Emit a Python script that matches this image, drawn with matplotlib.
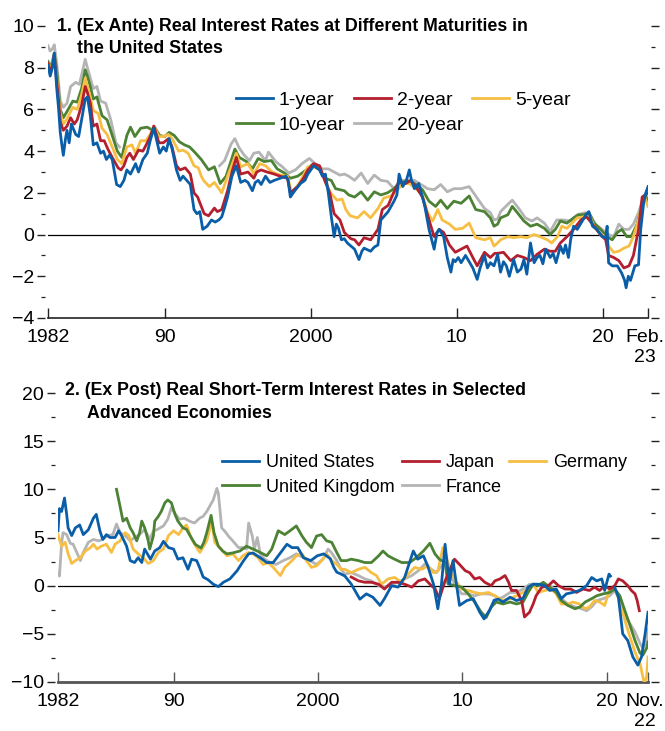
import numpy as np
import matplotlib
matplotlib.use("Agg")
import matplotlib.pyplot as plt
from matplotlib.ticker import MultipleLocator
from matplotlib.transforms import ScaledTranslation

plt.rcParams['font.family'] = ['Liberation Sans Narrow', 'Liberation Sans', 'DejaVu Sans']

# ---- panel 1: US ex ante real rates by maturity ----
yr_1y = [1982.0, 1982.15, 1982.3, 1982.43, 1982.6, 1982.73, 1982.84, 1982.95, 1983.05, 1983.2, 1983.3, 1983.45, 1983.6, 1983.9,
         1984.1, 1984.3, 1984.55, 1984.7, 1984.9, 1985.0, 1985.1, 1985.35, 1985.6, 1985.8, 1986.0, 1986.2, 1986.4, 1986.55,
         1986.7, 1986.95, 1987.2, 1987.4, 1987.65, 1988.0, 1988.2, 1988.5, 1988.8, 1989.0, 1989.25, 1989.45, 1989.65, 1989.9,
         1990.1, 1990.3, 1990.5, 1990.8, 1991.05, 1991.25, 1991.5, 1991.75, 1992.0, 1992.2, 1992.4, 1992.6, 1992.9, 1993.2,
         1993.45, 1993.7, 1993.9, 1994.1, 1994.3, 1994.6, 1994.9, 1995.2, 1995.5, 1995.7, 1996.0, 1996.2, 1996.4, 1996.6,
         1996.9, 1997.2, 1997.5, 1997.9, 1998.3, 1998.45, 1998.6, 1998.9, 1999.3, 1999.6, 1999.8, 2000.2, 2000.6, 2000.8,
         2001.0, 2001.2, 2001.4, 2001.6, 2001.75, 2001.9, 2002.1, 2002.3, 2002.5, 2002.75, 2003.0, 2003.3, 2003.5, 2003.65,
         2004.1, 2004.35, 2004.6, 2004.8, 2005.05, 2005.3, 2005.7, 2005.9, 2006.05, 2006.3, 2006.55, 2006.75, 2006.9, 2007.1,
         2007.4, 2007.8, 2008.1, 2008.3, 2008.45, 2008.65, 2008.8, 2009.1, 2009.35, 2009.6, 2009.75, 2009.9, 2010.1, 2010.3,
         2010.6, 2010.85, 2011.1, 2011.4, 2011.6, 2011.9, 2012.1, 2012.3, 2012.55, 2012.8, 2013.0, 2013.2, 2013.4, 2013.6,
         2013.9, 2014.15, 2014.4, 2014.6, 2014.8, 2015.05, 2015.3, 2015.5, 2015.7, 2015.9, 2016.1, 2016.4, 2016.6, 2016.8,
         2017.1, 2017.3, 2017.45, 2017.65, 2017.8, 2018.0, 2018.25, 2018.6, 2018.8, 2019.05, 2019.3, 2019.6, 2019.95, 2020.2,
         2020.3, 2020.4, 2020.65, 2021.0, 2021.3, 2021.5, 2021.6, 2021.75, 2021.9, 2022.2, 2022.45, 2022.6, 2022.8, 2022.95,
         2023.1]
val_1y = [8.1, 7.6, 8.0, 8.7, 7.0, 6.0, 4.9, 4.3, 3.8, 4.6, 5.0, 4.4, 5.3, 4.8,
          4.7, 5.5, 6.5, 6.6, 5.7, 5.0, 4.3, 4.4, 3.9, 4.0, 3.6, 3.8, 3.6, 3.0,
          2.4, 2.3, 2.6, 3.1, 2.9, 3.4, 3.0, 3.6, 3.9, 4.5, 5.1, 4.5, 3.9, 4.2,
          4.0, 4.6, 4.1, 3.1, 2.6, 2.8, 2.6, 2.4, 1.2, 1.0, 1.1, 0.25, 0.4, 0.7,
          0.6, 0.7, 0.85, 1.3, 1.8, 2.8, 3.3, 2.5, 2.6, 2.5, 2.1, 2.5, 2.6, 2.4,
          2.8, 2.5, 2.6, 2.7, 2.8, 2.6, 1.8, 2.1, 2.45, 2.6, 2.9, 3.3, 3.1, 2.8,
          2.9, 2.0, 0.9, -0.1, 0.5, 0.3, -0.25, -0.2, -0.4, -0.55, -0.7, -1.2, -0.8, -0.65,
          -0.8, -0.6, -0.5, 0.7, 0.9, 1.1, 1.6, 1.9, 2.9, 2.3, 2.6, 3.1, 2.6, 2.2,
          2.45, 1.4, 0.25, -0.3, -0.7, 0.1, 0.25, -0.1, -1.1, -1.8, -1.2, -1.3, -1.1, -1.35,
          -1.0, -1.3, -1.6, -2.15, -1.6, -1.0, -1.6, -1.35, -1.5, -0.95, -1.8, -1.3, -1.5, -2.0,
          -1.2, -1.8, -1.65, -1.2, -1.9, -0.4, -1.35, -1.1, -1.0, -1.4, -0.7, -1.1, -0.9, -1.35,
          -0.55, -0.9, -0.5, -1.1, -0.25, 0.4, 0.25, 0.65, 0.9, 1.1, 0.4, 0.25, -0.1, -0.15,
          0.4, -1.35, -1.5, -1.5, -1.85, -2.2, -2.55, -2.0, -2.2, -1.5, -1.45, 0.25, 1.5, 2.0,
          2.3]

yr_2y = [1982.0, 1982.15, 1982.3, 1982.43, 1982.6, 1982.73, 1982.84, 1983.05, 1983.3, 1983.55, 1983.8, 1984.0, 1984.3,
         1984.55, 1984.7, 1984.9, 1985.1, 1985.35, 1985.6, 1985.85, 1986.1, 1986.4, 1986.8, 1987.0, 1987.2, 1987.4, 1987.6,
         1987.85, 1988.2, 1988.5, 1988.8, 1989.0, 1989.25, 1989.6, 1989.9, 1990.25, 1990.5, 1990.8, 1991.05, 1991.4, 1991.75,
         1992.0, 1992.25, 1992.5, 1992.7, 1993.0, 1993.4, 1993.6, 1993.9, 1994.3, 1994.6, 1994.9, 1995.2, 1995.7, 1996.1,
         1996.3, 1996.6, 1997.0, 1997.5, 1997.9, 1998.4, 1998.6, 1999.1, 1999.5, 1999.8, 2000.2, 2000.6, 2000.95, 2001.3,
         2001.6, 2002.0, 2002.3, 2002.75, 2003.0, 2003.3, 2003.65, 2004.1, 2004.6, 2004.9, 2005.3, 2005.7, 2006.05, 2006.5,
         2006.85, 2007.2, 2007.65, 2008.1, 2008.45, 2008.8, 2009.1, 2009.5, 2009.9, 2010.3, 2010.7, 2011.1, 2011.4, 2011.9,
         2012.3, 2012.6, 2012.8, 2013.2, 2013.7, 2014.15, 2014.6, 2015.05, 2015.5, 2016.0, 2016.4, 2016.75, 2017.1, 2017.55,
         2018.0, 2018.5, 2018.9, 2019.4, 2019.85, 2020.2, 2020.4, 2020.75, 2021.1, 2021.45, 2021.8, 2022.1, 2022.45, 2022.7,
         2022.9, 2023.1]
val_2y = [8.2, 7.8, 8.1, 8.6, 7.3, 6.4, 5.4, 5.0, 5.2, 5.6, 5.3, 5.5, 6.2,
          7.1, 6.8, 6.3, 5.2, 5.3, 4.5, 4.5, 4.1, 3.7, 3.2, 3.1, 3.3, 3.7, 3.9,
          3.6, 4.05, 4.0, 4.4, 4.7, 5.2, 4.4, 4.4, 4.6, 4.2, 3.3, 3.1, 3.2, 2.9,
          2.0, 1.8, 1.35, 1.0, 0.9, 1.27, 1.1, 1.2, 2.1, 3.0, 3.7, 2.9, 3.0, 2.7,
          3.0, 3.1, 3.0, 2.9, 2.8, 2.7, 2.0, 2.3, 2.7, 3.1, 3.4, 3.3, 2.6, 2.0,
          1.0, 0.7, 0.1, -0.2, -0.25, -0.5, -0.15, -0.25, 0.25, 1.2, 1.4, 2.05, 2.55, 2.45,
          2.6, 2.3, 1.8, 0.7, -0.1, 0.25, 0.1, -0.5, -0.85, -0.7, -0.55, -1.1, -1.5, -0.85,
          -1.1, -0.9, -0.9, -0.85, -1.25, -1.0, -1.1, -1.25, -0.95, -0.7, -0.8, -0.8, -0.4, -0.1,
          0.25, 0.7, 0.85, 0.4, 0.0, -0.25, -1.0, -1.1, -1.25, -1.6, -1.5, -1.0, 0.25, 1.8,
          1.9, 2.0]

yr_5y = [1982.0, 1982.15, 1982.3, 1982.43, 1982.6, 1982.84, 1983.05, 1983.3, 1983.7, 1984.0, 1984.3, 1984.55, 1984.7,
         1984.9, 1985.1, 1985.45, 1985.7, 1986.05, 1986.4, 1986.75, 1987.05, 1987.4, 1987.75, 1988.0, 1988.35, 1988.7,
         1989.0, 1989.25, 1989.6, 1989.9, 1990.25, 1990.5, 1990.95, 1991.25, 1991.6, 1992.0, 1992.3, 1992.5, 1992.65,
         1993.05, 1993.4, 1993.9, 1994.3, 1994.9, 1995.2, 1995.7, 1996.1, 1996.5, 1996.9, 1997.35, 1997.9, 1998.4, 1998.7,
         1999.2, 1999.8, 2000.2, 2000.65, 2001.0, 2001.35, 2001.8, 2002.15, 2002.4, 2002.7, 2003.2, 2003.65, 2004.1, 2004.6,
         2005.0, 2005.5, 2005.95, 2006.3, 2006.75, 2007.2, 2007.65, 2008.0, 2008.35, 2008.7, 2009.0, 2009.5, 2009.9, 2010.4,
         2010.85, 2011.3, 2011.9, 2012.3, 2012.55, 2012.8, 2013.0, 2013.5, 2013.9, 2014.4, 2014.8, 2015.3, 2015.7, 2016.2,
         2016.5, 2016.9, 2017.2, 2017.55, 2017.9, 2018.25, 2018.7, 2019.05, 2019.4, 2019.85, 2020.2, 2020.4, 2020.75, 2021.1,
         2021.45, 2021.8, 2022.1, 2022.45, 2022.7, 2022.9, 2023.1]
val_5y = [8.2, 7.9, 8.2, 8.6, 7.5, 5.8, 5.3, 5.55, 6.1, 6.0, 6.7, 7.5, 7.1,
          6.6, 5.95, 5.8, 5.1, 4.8, 4.2, 3.6, 3.4, 4.2, 4.3, 3.9, 4.5, 4.5,
          4.8, 5.2, 4.7, 4.7, 4.8, 4.6, 4.0, 4.05, 3.9, 3.3, 3.2, 2.8, 2.6,
          2.3, 2.5, 2.0, 2.8, 3.9, 3.25, 3.4, 2.9, 3.4, 3.3, 3.0, 2.85, 2.8, 2.0,
          2.45, 3.25, 3.25, 3.1, 2.6, 2.0, 1.65, 1.7, 1.2, 0.9, 0.8, 1.1, 0.8, 1.25,
          1.75, 1.85, 2.15, 2.45, 2.45, 2.2, 1.9, 1.05, 0.65, 1.2, 0.7, 0.5, 0.25, 0.3,
          0.55, -0.15, -0.25, -0.15, -0.55, -0.4, -0.25, -0.1, -0.15, -0.1, -0.15, 0.0, -0.1, -0.25,
          -0.4, -0.1, 0.4, 0.3, 0.55, 0.8, 0.85, 1.0, 0.4, 0.0, -0.1, -0.55, -0.85, -0.8,
          -0.65, -0.55, -0.1, 0.7, 1.5, 1.75, 1.35]

yr_10y = [1982.0, 1982.15, 1982.3, 1982.43, 1982.6, 1982.84, 1983.05, 1983.3, 1983.7, 1984.0, 1984.3, 1984.55, 1984.7,
          1984.9, 1985.1, 1985.35, 1985.7, 1986.05, 1986.4, 1986.75, 1987.05, 1987.4, 1987.65, 1987.95, 1988.35, 1988.8,
          1989.15, 1989.3, 1989.65, 1990.0, 1990.3, 1990.65, 1991.0, 1991.35, 1991.7, 1992.05, 1992.5, 1993.0, 1993.4,
          1993.8, 1994.2, 1994.8, 1995.1, 1995.6, 1996.0, 1996.4, 1996.8, 1997.3, 1997.7, 1998.2, 1998.6, 1999.1, 1999.7,
          2000.1, 2000.6, 2000.95, 2001.4, 2001.7, 2002.0, 2002.3, 2002.6, 2003.0, 2003.45, 2003.9, 2004.35, 2004.8, 2005.25,
          2005.7, 2006.05, 2006.5, 2006.85, 2007.2, 2007.65, 2008.1, 2008.55, 2008.9, 2009.35, 2009.8, 2010.3, 2010.85,
          2011.3, 2011.9, 2012.3, 2012.55, 2012.8, 2013.0, 2013.5, 2013.8, 2014.15, 2014.6, 2015.05, 2015.5, 2016.0, 2016.4,
          2016.75, 2017.1, 2017.55, 2018.0, 2018.35, 2018.7, 2019.05, 2019.4, 2019.85, 2020.3, 2020.65, 2021.0, 2021.3,
          2021.65, 2021.95, 2022.35, 2022.7, 2022.9, 2023.1]
val_10y = [8.3, 8.0, 8.3, 8.7, 7.8, 6.0, 5.6, 5.9, 6.4, 6.35, 7.0, 7.9, 7.6,
           7.1, 6.5, 6.6, 5.7, 5.5, 4.75, 4.0, 3.7, 4.75, 5.15, 4.7, 5.1, 5.15,
           5.0, 5.15, 4.75, 4.7, 4.9, 4.75, 4.45, 4.3, 4.2, 3.95, 3.6, 3.1, 3.25,
           2.45, 2.8, 4.1, 3.7, 3.5, 3.15, 3.65, 3.5, 3.55, 3.15, 2.95, 2.7, 2.8, 3.1,
           3.35, 3.15, 2.7, 2.6, 2.2, 2.15, 2.1, 1.9, 1.8, 2.05, 1.65, 2.05, 1.9, 2.0,
           2.2, 2.45, 2.55, 2.55, 2.4, 2.15, 1.6, 1.35, 1.65, 1.25, 1.6, 1.5, 1.85,
           1.2, 1.1, 0.8, 0.4, 0.5, 0.8, 0.95, 1.35, 1.05, 0.65, 0.4, 0.5, 0.3, 0.0,
           0.25, 0.65, 0.55, 0.8, 0.95, 0.95, 1.05, 0.55, 0.25, -0.1, -0.25, 0.1, 0.25,
           -0.1, -0.1, 0.5, 1.35, 1.85, 1.65]

# 20-year series is not available 1987-1993 (NaN leaves the gap)
yr_20y = [1982.0, 1982.15, 1982.3, 1982.43, 1982.6, 1982.84, 1983.05, 1983.3, 1983.55, 1983.9, 1984.15, 1984.55, 1984.7,
          1984.9, 1985.1, 1985.35, 1985.6, 1985.95, 1986.3, 1986.65, 1986.9, 1990.0,
          1993.75, 1994.1, 1994.55, 1994.8, 1995.1, 1995.45, 1995.8, 1996.1, 1996.45, 1996.9, 1997.1, 1997.6, 1998.05,
          1998.5, 1998.95, 1999.4, 1999.9, 2000.3, 2000.8, 2001.2, 2001.6, 2002.0, 2002.3, 2002.6, 2003.0, 2003.45, 2003.9,
          2004.35, 2004.8, 2005.25, 2005.7, 2006.2, 2006.7, 2007.1, 2007.55, 2008.0, 2008.45, 2008.9, 2009.35, 2009.8,
          2010.3, 2010.85, 2011.3, 2011.9, 2012.3, 2012.55, 2012.8, 2013.0, 2013.5, 2013.8, 2014.25, 2014.7, 2015.15,
          2015.5, 2016.0, 2016.4, 2016.85, 2017.3, 2017.8, 2018.25, 2018.8, 2019.1, 2019.5, 2019.95, 2020.4, 2020.75,
          2021.1, 2021.45, 2021.8, 2022.1, 2022.45, 2022.7, 2022.9, 2023.1]
val_20y = [9.05, 8.8, 8.9, 9.1, 8.2, 6.4, 6.1, 6.3, 7.1, 7.3, 7.2, 8.4, 8.0,
           7.5, 7.0, 7.1, 6.4, 6.3, 5.5, 4.4, 4.2, np.nan,
           3.3, 3.55, 4.35, 4.6, 4.15, 3.8, 3.55, 3.9, 3.95, 3.55, 3.95, 3.5, 3.25,
           2.95, 3.1, 3.4, 3.65, 3.4, 3.15, 3.15, 3.0, 2.85, 2.9, 2.8, 2.6, 2.95, 2.45,
           2.85, 2.6, 2.55, 2.2, 2.6, 2.6, 2.6, 2.4, 2.2, 2.15, 2.4, 2.05, 2.2,
           2.2, 2.3, 1.85, 1.25, 1.05, 0.7, 0.75, 1.1, 1.45, 1.65, 1.25, 0.8, 0.65,
           0.8, 0.55, 0.15, 0.7, 0.7, 0.65, 0.95, 1.05, 1.0, 0.5, 0.25, 0.0, -0.1,
           0.5, 0.25, 0.25, 0.5, 1.05, 1.6, 1.9, 1.85]

# ---- panel 2: ex post real short-term rates ----
yr_us = [1982.0, 1982.1, 1982.25, 1982.45, 1982.6, 1982.7, 1982.95, 1983.2, 1983.5, 1983.75, 1984.1, 1984.45, 1984.65,
         1984.9, 1985.1, 1985.35, 1985.6, 1985.95, 1986.2, 1986.4, 1986.75, 1987.0, 1987.3, 1987.55, 1987.8, 1988.0,
         1988.4, 1988.7, 1989.05, 1989.3, 1989.65, 1990.0, 1990.3, 1990.65, 1991.0, 1991.25, 1991.6, 1991.8, 1992.05,
         1992.4, 1992.75, 1993.1, 1993.45, 1993.9, 1994.4, 1994.85, 1995.2, 1995.5, 1996.0, 1996.45, 1996.9, 1997.4,
         1997.85, 1998.2, 1998.6, 1999.0, 1999.5, 1999.95, 2000.4, 2000.85, 2001.1, 2001.3, 2001.6, 2001.86, 2002.3,
         2002.9, 2003.35, 2003.8, 2004.3, 2004.6, 2005.1, 2005.55, 2006.0, 2006.6, 2006.9, 2007.3, 2007.6, 2008.0, 2008.3,
         2008.55, 2008.8, 2009.1, 2009.35, 2009.6, 2009.8, 2010.3, 2010.75, 2011.2, 2011.5, 2011.9, 2012.2, 2012.5, 2012.8,
         2013.3, 2013.75, 2014.2, 2014.55, 2014.9, 2015.3, 2015.7, 2016.05, 2016.5, 2016.85, 2017.2, 2017.65, 2018.1,
         2018.6, 2018.95, 2019.3, 2019.65, 2019.85, 2020.15, 2020.25, 2020.4, 2020.55, 2020.8, 2021.1, 2021.45, 2021.8,
         2022.15, 2022.4, 2022.65, 2022.85]
val_us = [5.7, 8.0, 7.7, 9.1, 7.4, 6.0, 5.2, 6.0, 6.3, 5.3, 5.8, 7.0, 7.4,
          5.7, 4.8, 5.3, 5.0, 5.0, 5.7, 5.2, 4.1, 2.6, 2.4, 2.9, 2.4, 3.8,
          2.75, 3.6, 3.95, 4.6, 3.95, 3.8, 2.75, 2.9, 1.7, 2.75, 2.6, 1.9, 0.9,
          0.6, 0.15, -0.1, 0.35, 0.7, 1.55, 2.6, 3.3, 3.4, 2.9, 2.4, 2.4, 3.4,
          4.3, 3.95, 3.95, 2.9, 2.6, 3.1, 3.3, 2.8, 1.9, 1.4, 1.2, 1.0, 0.17,
          -1.4, -0.85, -1.2, -2.05, -1.35, 0.0, -0.15, 0.85, 3.6, 2.75, 3.1, 2.05, 0.15, -2.4,
          0.15, 4.3, 0.15, 2.6, 0.0, -2.05, -1.55, -1.35, -2.75, -3.45, -2.5, -1.5, -1.4, -1.7,
          -1.2, -1.55, -1.3, -0.15, 0.15, 0.15, 0.0, -0.5, -0.35, -1.35, -0.85, -0.7, -0.5,
          0.0, 0.85, 0.5, 0.7, -0.5, 1.2, 1.0, np.nan, -0.2, -1.2, -5.0, -5.7, -7.4,
          -8.25, -7.4, -5.0, -2.75]

yr_jp = [2002.3, 2002.8, 2003.25, 2003.7, 2004.2, 2004.6, 2005.1, 2005.55, 2006.0, 2006.5, 2006.95, 2007.4, 2007.85,
         2008.1, 2008.4, 2008.8, 2009.1, 2009.45, 2009.8, 2010.2, 2010.5, 2010.85, 2011.2, 2011.55, 2012.0, 2012.25,
         2012.6, 2012.95, 2013.2, 2013.4, 2013.75, 2014.1, 2014.3, 2014.65, 2014.9, 2015.1, 2015.5, 2015.95, 2016.3,
         2016.65, 2017.1, 2017.5, 2017.9, 2018.35, 2018.8, 2019.15, 2019.5, 2019.85, 2020.2, 2020.55, 2020.8, 2021.1,
         2021.45, 2021.7, 2021.95, 2022.1, 2022.25]
val_jp = [0.9, 0.5, 0.35, 0.35, 0.15, -0.35, 0.35, 0.35, 0.15, -0.15, 0.5, 0.7, 0.0,
          -0.3, -1.35, 0.5, 1.55, 2.75, 2.2, 1.55, 1.35, 0.7, 0.85, 0.35, 0.0, 0.5,
          0.7, 1.05, 0.35, -0.5, -0.5, -1.55, -3.25, -2.75, -1.9, -1.05, -0.15, 0.0, 0.5,
          0.0, -0.35, -0.35, -0.7, -0.35, -0.5, -0.15, -0.5, 0.0, -0.35, 0.0, 0.7, 0.5,
          0.0, -0.5, -0.85, -1.55, -2.6]

yr_de = [1982.0, 1982.1, 1982.25, 1982.5, 1982.7, 1982.95, 1983.2, 1983.55, 1983.9, 1984.25, 1984.45, 1984.7, 1985.0,
         1985.35, 1985.7, 1985.95, 1986.3, 1986.65, 1986.9, 1987.2, 1987.55, 1987.9, 1988.25, 1988.6, 1988.95, 1989.3,
         1989.65, 1990.0, 1990.35, 1990.65, 1990.9, 1991.25, 1991.6, 1991.83, 1992.3, 1992.65, 1992.85, 1993.2, 1993.7,
         1994.1, 1994.5, 1994.8, 1995.2, 1995.5, 1995.85, 1996.2, 1996.55, 1996.9, 1997.4, 1997.7, 1998.2, 1998.5, 1998.9,
         1999.2, 1999.55, 1999.9, 2000.25, 2000.6, 2000.95, 2001.3, 2001.6, 2001.86, 2002.3, 2002.8, 2003.25, 2003.7,
         2004.05, 2004.4, 2004.85, 2005.3, 2005.8, 2006.25, 2006.7, 2007.2, 2007.6, 2008.0, 2008.3, 2008.65, 2008.9,
         2009.25, 2009.6, 2009.95, 2010.4, 2010.85, 2011.3, 2011.8, 2012.25, 2012.8, 2013.3, 2013.75, 2014.2, 2014.55,
         2014.9, 2015.25, 2015.7, 2016.15, 2016.5, 2016.85, 2017.3, 2017.65, 2018.1, 2018.5, 2018.8, 2019.15, 2019.5,
         2019.85, 2020.2, 2020.55, 2020.9, 2021.25, 2021.6, 2021.95, 2022.3, 2022.5, 2022.6, 2022.75, 2022.85]
val_de = [5.3, 4.8, 4.1, 4.5, 3.3, 2.3, 2.6, 2.9, 3.6, 3.95, 4.3, 3.8, 4.1,
          4.3, 3.45, 4.3, 4.65, 5.5, 5.2, 3.8, 3.3, 2.9, 2.3, 2.6, 3.45, 3.8,
          5.2, 5.7, 5.3, 6.0, 6.3, 4.85, 3.95, 3.45, 4.65, 6.7, 4.5, 3.95, 3.1,
          3.3, 2.6, 3.1, 3.45, 3.3, 2.9, 2.2, 2.4, 1.9, 1.05, 1.9, 2.6, 3.1, 3.3,
          2.6, 1.9, 2.05, 2.6, 3.3, 2.6, 2.2, 1.7, 1.7, 1.35, 1.7, 1.9, 1.35,
          1.05, 0.15, 0.7, 0.85, 0.35, 1.2, 1.9, 1.7, 2.05, 1.35, 1.55, 3.95, 2.9,
          1.2, 0.35, -0.35, -0.5, -0.7, -0.85, -0.7, -1.05, -1.55, -1.35, -1.05, -0.7, -0.35,
          0.15, -0.7, -0.5, -0.35, -0.85, -1.9, -1.9, -1.7, -1.9, -2.4, -2.2, -1.55, -1.7,
          -2.05, -0.35, -0.35, -1.55, -3.6, -5.3, -6.9, -8.1, -9.5, -10.1, -9.5, -7.4]

yr_uk = [1986.05, 1986.3, 1986.5, 1986.75, 1987.0, 1987.2, 1987.45, 1987.65, 1987.8, 1988.0, 1988.25, 1988.35, 1988.6,
         1988.7, 1988.95, 1989.15, 1989.4, 1989.6, 1989.85, 1990.1, 1990.3, 1990.65, 1990.9, 1991.1, 1991.5, 1991.7,
         1991.9, 1992.1, 1992.3, 1992.6, 1992.8, 1993.1, 1993.4, 1993.7, 1994.1, 1994.6, 1995.05, 1995.5, 1996.0, 1996.45,
         1996.8, 1997.25, 1997.7, 1998.2, 1998.5, 1998.9, 1999.2, 1999.55, 1999.9, 2000.25, 2000.6, 2000.95, 2001.3,
         2001.6, 2001.98, 2002.3, 2002.8, 2003.25, 2003.7, 2004.2, 2004.5, 2004.85, 2005.3, 2005.8, 2006.35, 2006.8,
         2007.3, 2007.75, 2008.1, 2008.4, 2008.8, 2009.0, 2009.45, 2009.95, 2010.4, 2010.85, 2011.3, 2011.65, 2012.0,
         2012.35, 2012.8, 2013.3, 2013.75, 2014.2, 2014.55, 2014.9, 2015.25, 2015.6, 2016.05, 2016.5, 2016.85, 2017.3,
         2017.8, 2018.15, 2018.5, 2018.95, 2019.3, 2019.75, 2020.2, 2020.55, 2020.9, 2021.25, 2021.6, 2021.95, 2022.3,
         2022.5, 2022.75, 2022.85]
val_uk = [10.0, 8.2, 6.7, 7.0, 6.0, 5.5, 4.65, 5.5, 6.7, 6.0, 4.65, 3.8, 5.15,
          6.7, 7.2, 7.7, 8.6, 8.9, 8.6, 7.4, 6.7, 6.0, 5.85, 5.3, 4.3, 4.1,
          3.9, 4.5, 5.5, 7.3, 5.5, 4.1, 3.6, 3.3, 3.4, 3.6, 4.1, 3.8, 3.45, 3.1,
          3.8, 5.7, 5.3, 5.85, 6.2, 5.15, 4.5, 3.95, 5.15, 5.3, 4.65, 4.5, 3.45,
          2.6, 2.6, 2.75, 2.6, 2.4, 2.4, 3.1, 3.6, 3.1, 2.75, 2.4, 2.4, 2.9,
          3.6, 4.4, 3.3, 2.75, 2.4, 0.2, 0.0, -0.15, -0.85, -1.7, -2.75, -3.3, -2.2,
          -1.7, -1.9, -1.7, -1.9, -1.7, -0.7, 0.15, 0.0, 0.35, -0.15, -0.7, -1.55, -2.05,
          -2.4, -2.2, -1.7, -1.35, -1.05, -0.85, -0.7, -0.35, -1.05, -2.6, -4.1, -5.7, -7.0,
          -7.2, -6.5, -5.85]

yr_fr = [1982.0, 1982.1, 1982.25, 1982.35, 1982.6, 1982.85, 1983.05, 1983.3, 1983.55, 1983.75, 1984.1, 1984.45, 1984.8,
         1985.1, 1985.45, 1985.8, 1986.05, 1986.3, 1986.65, 1987.0, 1987.3, 1987.65, 1988.0, 1988.35, 1988.6, 1988.9,
         1989.3, 1989.6, 1989.85, 1990.05, 1990.4, 1990.75, 1991.1, 1991.45, 1991.8, 1992.05, 1992.3, 1992.75, 1993.0,
         1993.1, 1993.2, 1993.33, 1993.55, 1993.8, 1994.1, 1994.5, 1994.8, 1995.05, 1995.2, 1995.45, 1995.6, 1995.8,
         1996.0, 1996.3, 1996.7, 1997.1, 1997.6, 1998.05, 1998.5, 1999.0, 1999.45, 1999.9, 2000.35, 2000.7, 2000.95,
         2001.3, 2001.6, 2001.86, 2002.3, 2002.8, 2003.25, 2003.7, 2004.2, 2004.6, 2005.1, 2005.55, 2006.0, 2006.5,
         2006.95, 2007.4, 2007.85, 2008.2, 2008.55, 2008.8, 2009.1, 2009.45, 2009.95, 2010.4, 2010.85, 2011.3, 2011.8,
         2012.25, 2012.5, 2012.8, 2013.3, 2013.75, 2014.2, 2014.65, 2015.1, 2015.6, 2016.05, 2016.5, 2016.85, 2017.3,
         2017.8, 2018.25, 2018.6, 2018.95, 2019.3, 2019.75, 2020.2, 2020.55, 2020.9, 2021.25, 2021.6, 2021.95, 2022.3,
         2022.5, 2022.75, 2022.85]
val_fr = [1.3, 1.0, 4.4, 5.5, 5.3, 4.4, 4.3, 3.45, 2.6, 3.45, 4.5, 4.8, 4.65,
          4.8, 5.2, 5.3, 6.4, 5.5, 5.2, 4.65, 5.0, 5.3, 5.85, 4.85, 5.65, 5.85,
          6.2, 6.9, 8.1, 7.6, 6.9, 7.0, 6.7, 6.5, 7.0, 7.2, 7.7, 8.9, 10.1,
          9.6, 8.1, 6.0, 5.65, 5.15, 4.65, 3.95, 3.95, 3.8, 6.5, 5.15, 3.8, 5.0,
          3.3, 2.75, 2.4, 2.2, 2.6, 2.9, 3.3, 2.9, 2.6, 2.2, 2.75, 3.8, 3.4,
          2.6, 1.7, 1.2, 1.35, 1.05, 0.7, 0.5, 0.0, -0.15, 0.15, 0.35, 0.7, 1.05,
          1.55, 2.25, 1.7, 1.35, 2.05, 2.6, 1.55, 0.15, -0.85, -0.85, -1.05, -0.85, -0.85,
          -1.05, -1.35, -1.2, -0.7, -0.7, -0.35, 0.15, 0.15, -0.15, 0.0, -0.5, -1.35, -1.9,
          -2.2, -2.4, -2.6, -2.2, -1.55, -1.35, -1.05, -0.5, -1.55, -3.1, -3.95, -4.8, -6.0,
          -6.5, -5.7, -4.5]

BLUE = '#0a5ea8'
RED = '#b31f2e'
YELLOW = '#f6bf43'
GREEN = '#4b8234'
GREY = '#b4b4b4'

fig = plt.figure(figsize=(6.65, 7.31), dpi=100)
W, H = 665.0, 731.0


def style_axis(ax, ylim, major, minor, xticks, xlabels, xlim, spine_color, spine_lw):
    ax.set_xlim(*xlim)
    ax.set_ylim(*ylim)
    ax.axhline(0, color='black', lw=0.9, zorder=1)
    for side in ('left', 'right', 'top'):
        ax.spines[side].set_visible(False)
    ax.spines['left'].set_position(('outward', 2))
    ax.spines['right'].set_position(('outward', 2))
    ax.spines['bottom'].set_color(spine_color)
    ax.spines['bottom'].set_linewidth(spine_lw)
    ax.yaxis.set_major_locator(MultipleLocator(major))
    ax.yaxis.set_minor_locator(MultipleLocator(minor))
    ax.tick_params(axis='y', which='both', left=True, right=True, direction='out',
                   labelsize=14, pad=2, color='#222222')
    ax.tick_params(axis='y', which='major', length=6, width=1.0)
    ax.tick_params(axis='y', which='minor', length=3, width=0.9)
    ax.set_xticks(xticks)
    ax.set_xticklabels(xlabels)
    ax.tick_params(axis='x', which='major', direction='in', length=7, width=1.0,
                   labelsize=14, pad=8, color=spine_color)
    ax.xaxis.set_minor_locator(plt.NullLocator())
    ax.patch.set_visible(False)
    # nudge the last (month) label left so it stays inside the canvas
    last = ax.get_xticklabels()[-1]
    last.set_transform(last.get_transform() + ScaledTranslation(-3 / 100, 0, fig.dpi_scale_trans))


# panel 1
ax1 = fig.add_axes([48 / W, 1 - 318 / H, 600 / W, 292 / H])
style_axis(ax1, (-4, 10), 2, 1, [1982, 1990, 2000, 2010, 2020, 2023.1],
           ['1982', '90', '2000', '10', '20', 'Feb.\n23'], (1982, 2023.1), '#222222', 1.2)
lw = 2.0
l20, = ax1.plot(yr_20y, val_20y, color=GREY, lw=lw, label='20-year', zorder=2)
l10, = ax1.plot(yr_10y, val_10y, color=GREEN, lw=lw, label='10-year', zorder=3)
l5, = ax1.plot(yr_5y, val_5y, color=YELLOW, lw=lw, label='5-year', zorder=4)
l2, = ax1.plot(yr_2y, val_2y, color=RED, lw=lw, label='2-year', zorder=5)
l1, = ax1.plot(yr_1y, val_1y, color=BLUE, lw=lw, label='1-year', zorder=6)
fig.legend([l1, l10, l2, l20, l5], ['1-year', '10-year', '2-year', '20-year', '5-year'],
           ncol=3, loc='upper left', bbox_to_anchor=(236 / W, 1 - 91 / H), frameon=False,
           fontsize=14, handlelength=1.9, handletextpad=0.3, columnspacing=0.45,
           labelspacing=0.38, borderpad=0, borderaxespad=0)
fig.text(57 / W, 1 - 31 / H, '1. (Ex Ante) Real Interest Rates at Different Maturities in',
         fontsize=12.8, fontweight='bold', va='baseline', ha='left')
fig.text(77 / W, 1 - 53 / H, 'the United States',
         fontsize=12.8, fontweight='bold', va='baseline', ha='left')

# panel 2
ax2 = fig.add_axes([58 / W, 1 - 682 / H, 590 / W, 289 / H])
style_axis(ax2, (-10, 20), 5, 2.5, [1982, 1990, 2000, 2010, 2020, 2022.85],
           ['1982', '90', '2000', '10', '20', 'Nov.\n22'], (1982, 2022.85), '#555555', 2.0)
lfr, = ax2.plot(yr_fr, val_fr, color=GREY, lw=lw, zorder=2)
lde, = ax2.plot(yr_de, val_de, color=YELLOW, lw=lw, zorder=3)
luk, = ax2.plot(yr_uk, val_uk, color=GREEN, lw=lw, zorder=4)
ljp, = ax2.plot(yr_jp, val_jp, color=RED, lw=lw, zorder=5)
lus, = ax2.plot(yr_us, val_us, color=BLUE, lw=lw, zorder=6)
fig.legend([lus, luk, ljp, lfr, lde], ['United States', 'United Kingdom', 'Japan', 'France', 'Germany'],
           ncol=3, loc='upper left', bbox_to_anchor=(222 / W, 1 - 454 / H), frameon=False,
           fontsize=13, handlelength=2.05, handletextpad=0.38, columnspacing=0.4,
           labelspacing=0.42, borderpad=0, borderaxespad=0)
fig.text(65 / W, 1 - 395 / H, '2. (Ex Post) Real Short-Term Interest Rates in Selected',
         fontsize=12.8, fontweight='bold', va='baseline', ha='left')
fig.text(87 / W, 1 - 418 / H, 'Advanced Economies',
         fontsize=12.8, fontweight='bold', va='baseline', ha='left')

fig.savefig('out.png', dpi=100)
